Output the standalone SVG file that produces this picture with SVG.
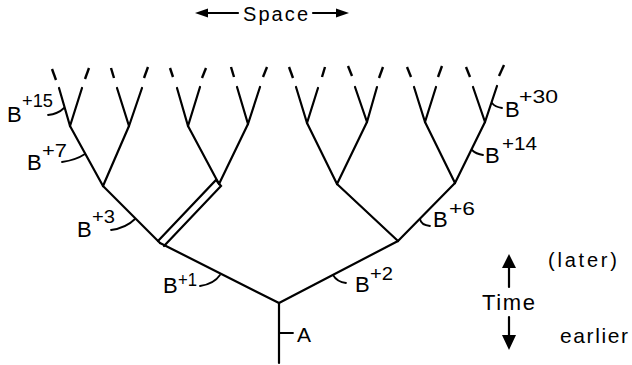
<svg xmlns="http://www.w3.org/2000/svg" width="632" height="365" viewBox="0 0 632 365">
<style>
.br{stroke:#000;stroke-width:2.2;stroke-linecap:round;fill:none}
.ds{stroke:#000;stroke-width:2.4;stroke-linecap:butt;fill:none}
.tk{stroke:#000;stroke-width:1.8;fill:none;stroke-linecap:round}
.t{font-family:"Liberation Sans",Arial,sans-serif;fill:#000}
.B{font-size:22px}
.s{font-size:18px}
</style>
<rect width="632" height="365" fill="#fff"/>
<g id="connectors">
<line class="br" x1="279" y1="303" x2="279" y2="363"/>
<line class="br" x1="279" y1="303" x2="160" y2="243"/>
<line class="br" x1="279" y1="303" x2="398" y2="241"/>
<line class="br" x1="160" y1="243" x2="103" y2="186"/>
<path class="br" d="M158,241 L216,180 L221,186 L164,246" stroke-width="2"/>
<line class="br" x1="398" y1="241" x2="337" y2="184"/>
<line class="br" x1="398" y1="241" x2="455" y2="183"/>
<line class="br" x1="103" y1="186" x2="70" y2="126"/>
<line class="br" x1="103" y1="186" x2="129" y2="126"/>
<line class="br" x1="219" y1="184" x2="188" y2="126"/>
<line class="br" x1="219" y1="184" x2="248" y2="124"/>
<line class="br" x1="337" y1="184" x2="307" y2="123"/>
<line class="br" x1="337" y1="184" x2="367" y2="122"/>
<line class="br" x1="455" y1="183" x2="425" y2="122"/>
<line class="br" x1="455" y1="183" x2="485" y2="122"/>
<line class="br" x1="70" y1="126" x2="59" y2="88"/>
<line class="br" x1="70" y1="126" x2="82" y2="88"/>
<line class="br" x1="129" y1="126" x2="117" y2="88"/>
<line class="br" x1="129" y1="126" x2="142" y2="88"/>
<line class="br" x1="188" y1="126" x2="177" y2="88"/>
<line class="br" x1="188" y1="126" x2="200" y2="87"/>
<line class="br" x1="248" y1="124" x2="237" y2="87"/>
<line class="br" x1="248" y1="124" x2="260" y2="87"/>
<line class="br" x1="307" y1="123" x2="296" y2="87"/>
<line class="br" x1="307" y1="123" x2="318" y2="88"/>
<line class="br" x1="367" y1="122" x2="355" y2="87"/>
<line class="br" x1="367" y1="122" x2="377" y2="87"/>
<line class="br" x1="425" y1="122" x2="414" y2="87"/>
<line class="br" x1="425" y1="122" x2="436" y2="87"/>
<line class="br" x1="485" y1="122" x2="473" y2="87"/>
<line class="br" x1="485" y1="122" x2="497" y2="86"/>
<line class="ds" x1="56" y1="80" x2="52" y2="69"/>
<line class="ds" x1="85" y1="79" x2="89" y2="68"/>
<line class="ds" x1="114" y1="78" x2="111" y2="68"/>
<line class="ds" x1="144" y1="78" x2="148" y2="67"/>
<line class="ds" x1="173" y1="77" x2="170" y2="68"/>
<line class="ds" x1="202" y1="78" x2="206" y2="68"/>
<line class="ds" x1="234" y1="77" x2="231" y2="67"/>
<line class="ds" x1="263" y1="77" x2="267" y2="67"/>
<line class="ds" x1="293" y1="78" x2="289" y2="67"/>
<line class="ds" x1="322" y1="77" x2="325" y2="67"/>
<line class="ds" x1="352" y1="76" x2="348" y2="66"/>
<line class="ds" x1="379" y1="78" x2="383" y2="67"/>
<line class="ds" x1="411" y1="77" x2="407" y2="67"/>
<line class="ds" x1="438" y1="77" x2="442" y2="66"/>
<line class="ds" x1="470" y1="77" x2="466" y2="67"/>
<line class="ds" x1="499" y1="76" x2="504" y2="65"/>
</g>
<g id="label-B15">
<path class="tk" d="M48,115 Q58,114 64,108"/>
<text class="t B" x="7" y="122">B</text>
<text class="t s" x="22" y="107" textLength="31" lengthAdjust="spacingAndGlyphs">+15</text>
</g>
<g id="label-B7">
<path class="tk" d="M62,162 Q76,160 85,154"/>
<text class="t B" x="27" y="170">B</text>
<text class="t s" x="42" y="157" textLength="25" lengthAdjust="spacingAndGlyphs">+7</text>
</g>
<g id="label-B3">
<path class="tk" d="M111,230 Q126,228 135,219"/>
<text class="t B" x="77" y="237">B</text>
<text class="t s" x="92" y="223" textLength="23" lengthAdjust="spacingAndGlyphs">+3</text>
</g>
<g id="label-B1">
<path class="tk" d="M200,286 Q214,284 220,275"/>
<text class="t B" x="163" y="293">B</text>
<text class="t s" x="178" y="286" textLength="19" lengthAdjust="spacingAndGlyphs">+1</text>
</g>
<g id="label-B2">
<path class="tk" d="M333,275 Q337,282 346,283"/>
<text class="t B" x="355" y="292">B</text>
<text class="t s" x="370" y="280" textLength="23" lengthAdjust="spacingAndGlyphs">+2</text>
</g>
<g id="label-B6">
<path class="tk" d="M420,219 Q421,225 430,226"/>
<text class="t B" x="433" y="227">B</text>
<text class="t s" x="449" y="215" textLength="26" lengthAdjust="spacingAndGlyphs">+6</text>
</g>
<g id="label-B14">
<path class="tk" d="M472,150 Q476,154 483,155"/>
<text class="t B" x="485" y="163">B</text>
<text class="t s" x="502" y="150" textLength="35" lengthAdjust="spacingAndGlyphs">+14</text>
</g>
<g id="label-B30">
<path class="tk" d="M492,103 Q495,107 502,108"/>
<text class="t B" x="505" y="117">B</text>
<text class="t s" x="519" y="103" textLength="39" lengthAdjust="spacingAndGlyphs">+30</text>
</g>
<g id="label-A">
<line class="tk" x1="280" y1="333" x2="293" y2="333"/>
<text class="t" font-size="21" x="297" y="342">A</text>
</g>
<g id="space">
<line class="br" x1="206" y1="13" x2="238" y2="13" stroke-width="2.2"/>
<polygon points="195,13 208,8.5 208,17.5" fill="#000"/>
<line class="br" x1="313" y1="13" x2="337" y2="13" stroke-width="2.2"/>
<polygon points="349,13 336,8.5 336,17.5" fill="#000"/>
<text class="t" font-size="20" x="243" y="21" textLength="65">Space</text>
</g>
<g id="time">
<line class="br" x1="509" y1="266" x2="509" y2="287" stroke-width="2"/>
<polygon points="509,254 502,268 516,268" fill="#000"/>
<line class="br" x1="509" y1="317" x2="509" y2="337" stroke-width="2"/>
<polygon points="509,350 502,335 516,335" fill="#000"/>
<text class="t" font-size="22" x="482" y="310" textLength="53">Time</text>
<text class="t" font-size="20" x="548" y="267" textLength="69">(later)</text>
<text class="t" font-size="21" x="560" y="343" textLength="68">earlier</text>
</g>
</svg>
